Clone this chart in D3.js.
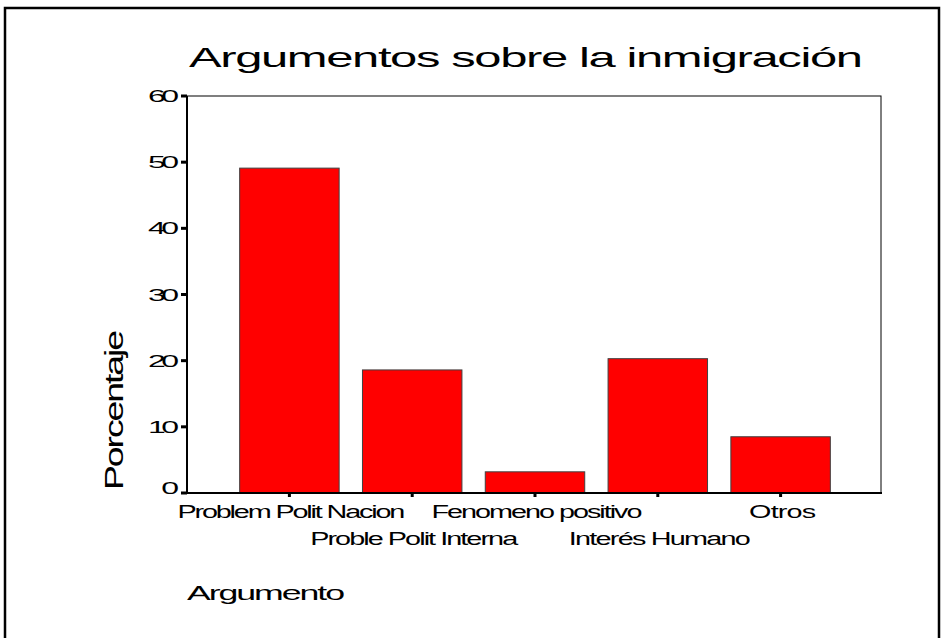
<!DOCTYPE html>
<html>
<head>
<meta charset="utf-8">
<script src="https://cdn.jsdelivr.net/npm/d3@7"></script>
<style>
body{margin:0;background:#fff;}
text{font-family:"Liberation Sans",Arial,sans-serif;fill:#000;}
</style>
</head>
<body>
<svg id="chart" width="941" height="638"></svg>
<script>
//data
var categories=["Problem Polit Nacion","Proble Polit Interna","Fenomeno positivo","Interés Humano","Otros"];
var values=[49.1,18.6,3.2,20.3,8.5];
var yTicks=[0,10,20,30,40,50,60];
var titleText="Argumentos sobre la inmigración";
var xTitle="Argumento";
var yTitle="Porcentaje";

var svg=d3.select("#chart");
var pLeft=187,pRight=881,pTop=96,pBottom=493;

//wide glyphs squeezed together, like the old export
function wideText(tr,size,width,anchor,str,stretch){
    var g=svg.append("g").attr("transform",tr+" scale("+stretch+",1)");
    g.append("text").attr("font-size",size).attr("text-anchor",anchor)
        .attr("textLength",width/stretch).attr("lengthAdjust","spacing").text(str);
    return g;
}

//outer frame
svg.append("path").attr("d","M5,640 L5,8 L939,8 L939,640")
    .attr("fill","none").attr("stroke","#000").attr("stroke-width",2.5);

var y=d3.scaleLinear().domain([0,60]).range([pBottom,pTop]);
var x=d3.scaleBand().domain(categories).range([228,842]).paddingInner(0.19).paddingOuter(0.095);

//plot box
svg.append("rect").attr("x",pLeft).attr("y",pTop).attr("width",pRight-pLeft).attr("height",pBottom-pTop)
    .attr("fill","none").attr("stroke","#000").attr("stroke-width",1);

//bars
svg.selectAll("rect.bar").data(values).enter().append("rect").attr("class","bar")
    .attr("x",function(d,i){return x(categories[i]);})
    .attr("y",function(d){return y(d);})
    .attr("width",x.bandwidth())
    .attr("height",function(d){return pBottom-y(d);})
    .attr("fill","#ff0000").attr("stroke","#404040").attr("stroke-width",1);

//axes lines
svg.append("line").attr("x1",pLeft).attr("x2",pLeft).attr("y1",pTop).attr("y2",pBottom+1)
    .attr("stroke","#000").attr("stroke-width",2);
svg.append("line").attr("x1",pLeft-1).attr("x2",pRight+1).attr("y1",pBottom).attr("y2",pBottom)
    .attr("stroke","#000").attr("stroke-width",2);

//y ticks
yTicks.forEach(function(t){
    svg.append("rect").attr("x",pLeft-6).attr("y",y(t)-1.5).attr("width",6).attr("height",3).attr("fill","#000");
    var lab=String(t);
    var yy=y(t)+(t==0?-5:0)+6;
    wideText("translate("+(pLeft-8)+","+yy+")",16,lab.length==1?15:31,"end",lab,2.0);
});

//x ticks and labels
var labW=[228,208,211,182,67];
categories.forEach(function(c,i){
    var cx=x(c)+x.bandwidth()/2;
    svg.append("rect").attr("x",cx-1.5).attr("y",pBottom+1).attr("width",3).attr("height",3).attr("fill","#000");
    wideText("translate("+(cx+2)+","+(i%2==0?518:545)+")",18,labW[i],"middle",c,1.6);
});

//titles
wideText("translate(189,67)",28,674,"start",titleText,1.75);
wideText("translate(187,600)",21,158,"start",xTitle,1.7);
wideText("translate(123,490) rotate(-90)",25,160,"start",yTitle,1.5);
</script>
</body>
</html>
